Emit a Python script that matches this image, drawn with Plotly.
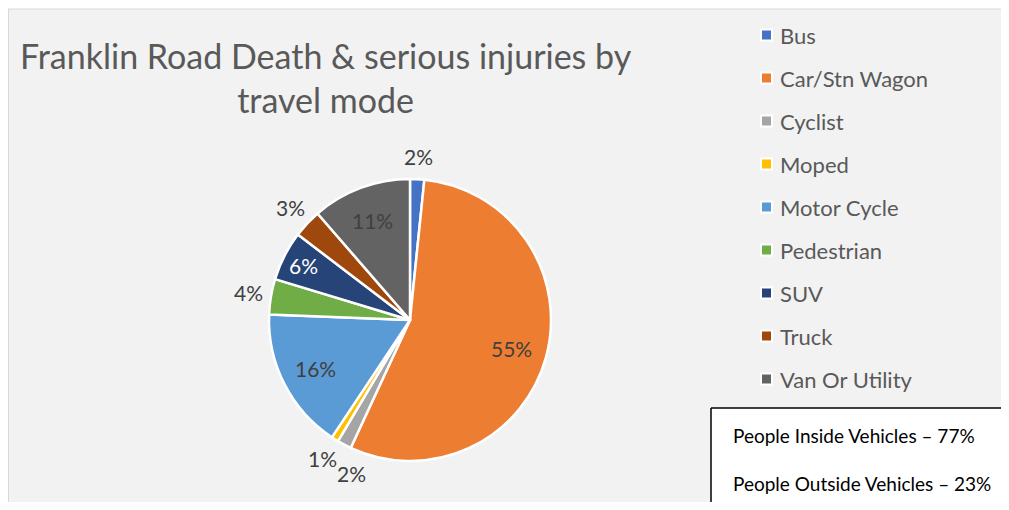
import math

import plotly.graph_objects as go

# page is shown with the browser's 8px body margin, so the figure is sized to fit inside it
W, H = 993, 494

modes = ["Bus", "Car/Stn Wagon", "Cyclist", "Moped", "Motor Cycle",
         "Pedestrian", "SUV", "Truck", "Van Or Utility"]
counts = [2, 68, 2, 1, 20, 5, 7, 4, 14]
colors = ["#4472C4", "#ED7D31", "#A5A5A5", "#FFC000", "#5B9BD5",
          "#70AD47", "#264478", "#9E480E", "#636363"]
label_outside = [True, False, True, True, False, True, False, True, False]
label_colors = ["#404040", "#404040", "#404040", "#404040", "#404040",
                "#404040", "#FFFFFF", "#404040", "#404040"]
summary_lines = ["People Inside Vehicles – 77%", "People Outside Vehicles – 23%"]

FONT = "Lato"
TEXT_GREY = "#595959"


def px_x(v):
    return v / W


def px_y(v):
    return 1 - v / H


# pie geometry in figure pixels
cx, cy, R = 402, 312, 141

fig = go.Figure()
fig.add_trace(
    go.Pie(
        labels=modes,
        values=counts,
        sort=False,
        direction="clockwise",
        rotation=0,
        marker=dict(colors=colors, line=dict(color="white", width=2.5)),
        textinfo="none",
        hovertemplate="%{label}: %{percent:.0%}<extra></extra>",
        showlegend=False,
        domain=dict(x=[px_x(cx - R), px_x(cx + R)], y=[px_y(cy + R), px_y(cy - R)]),
    )
)

shapes = [
    # white strip above the chart area and its grey top/left border
    dict(type="rect", xref="paper", yref="paper", x0=0, x1=1, y0=px_y(1), y1=1,
         fillcolor="white", line=dict(width=0), layer="below"),
    dict(type="line", xref="paper", yref="paper", x0=0, x1=1, y0=px_y(1), y1=px_y(1),
         line=dict(color="#D9D9D9", width=1)),
    dict(type="line", xref="paper", yref="paper", x0=px_x(0.5), x1=px_x(0.5), y0=0, y1=px_y(1),
         line=dict(color="#D9D9D9", width=1)),
    # text box, running off the right and bottom edges
    dict(type="rect", xref="paper", yref="paper", x0=px_x(703), x1=1, y0=0, y1=px_y(400),
         fillcolor="white", line=dict(width=0), layer="above"),
    dict(type="line", xref="paper", yref="paper", x0=px_x(703), x1=1, y0=px_y(400), y1=px_y(400),
         line=dict(color="black", width=1.5)),
    dict(type="line", xref="paper", yref="paper", x0=px_x(703), x1=px_x(703), y0=0, y1=px_y(400),
         line=dict(color="black", width=1.5)),
]
annotations = [
    dict(text="Franklin Road Death & serious injuries by<br>travel mode", xref="paper", yref="paper",
         x=px_x(318), y=px_y(69), xanchor="center", yanchor="middle", showarrow=False,
         font=dict(family=FONT, size=34, color=TEXT_GREY)),
]

# percentage labels placed like Excel's best-fit labels
total = sum(counts)
start = 0
for i, v in enumerate(counts):
    mid = (start + v / 2) / total * 2 * math.pi
    start += v
    if label_outside[i]:
        dist = R + 23
        if modes[i] == "Cyclist":
            mid -= math.radians(7)  # nudged away from the Moped label
    else:
        dist = R * (0.85 if v / total < 0.08 else 0.75)
    lx = cx + dist * math.sin(mid)
    ly = cy - dist * math.cos(mid)
    annotations.append(dict(text=f"{round(100 * v / total)}%", xref="paper", yref="paper",
                            x=px_x(lx), y=px_y(ly), xanchor="center", yanchor="middle",
                            showarrow=False,
                            font=dict(family=FONT, size=21, color=label_colors[i])))

# legend drawn by hand to get Excel's item spacing
for i, (name, col) in enumerate(zip(modes, colors)):
    yc = 27 + 43 * i
    shapes.append(dict(type="rect", xref="paper", yref="paper",
                       x0=px_x(753), x1=px_x(764), y0=px_y(yc + 5.5), y1=px_y(yc - 5.5),
                       fillcolor=col, line=dict(color="white", width=2)))
    annotations.append(dict(text=name, xref="paper", yref="paper", x=px_x(770), y=px_y(yc),
                            xanchor="left", yanchor="middle", showarrow=False,
                            font=dict(family=FONT, size=22, color=TEXT_GREY)))

for i, line in enumerate(summary_lines):
    annotations.append(dict(text=line, xref="paper", yref="paper", x=px_x(723), y=px_y(427 + 48 * i),
                            xanchor="left", yanchor="middle", showarrow=False,
                            font=dict(family=FONT, size=19, color="black")))

fig.update_layout(
    width=W,
    height=H,
    margin=dict(l=0, r=0, t=0, b=0),
    paper_bgcolor="#F2F2F2",
    plot_bgcolor="#F2F2F2",
    shapes=shapes,
    annotations=annotations,
)

fig.write_html("out.html")
